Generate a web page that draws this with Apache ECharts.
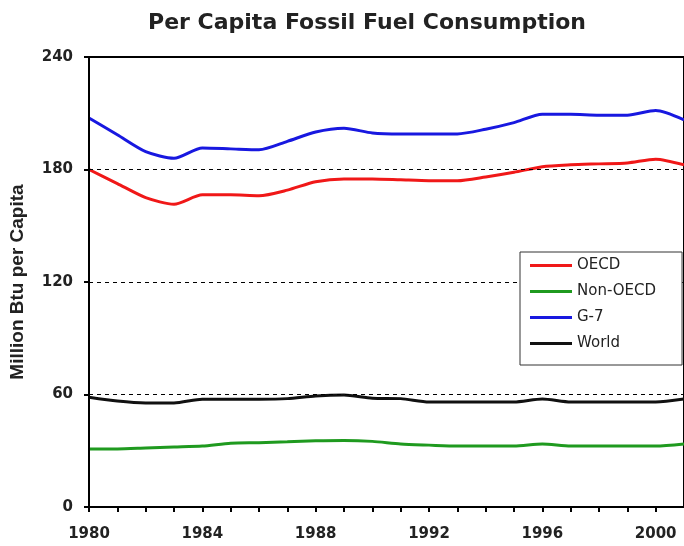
<!DOCTYPE html>
<html>
<head>
<meta charset="utf-8">
<script src="https://cdn.jsdelivr.net/npm/echarts@6/dist/echarts.min.js"></script>
<style>
  html, body { margin: 0; padding: 0; background: #fff; }
  #main { width: 684px; height: 546px; }
</style>
</head>
<body>
<div id="main"></div>
<script>
// data, one value per year
var years = [1980, 1981, 1982, 1983, 1984, 1985, 1986, 1987, 1988, 1989, 1990,
  1991, 1992, 1993, 1994, 1995, 1996, 1997, 1998, 1999, 2000, 2001];
var oecd = [180, 172.5, 165, 161.5, 166.5, 166.5, 166, 169, 173.5, 175, 175,
  174.5, 174, 174, 176, 178.5, 181.5, 182.5, 183, 183.5, 185.5, 182.5];
var nonOecd = [31, 31, 31.5, 32, 32.5, 34, 34.3, 34.8, 35.3, 35.5, 35,
  33.6, 33, 32.5, 32.5, 32.5, 33.6, 32.5, 32.5, 32.5, 32.5, 33.6];
var g7 = [207.5, 198.5, 189.5, 186, 191.5, 191, 190.5, 195, 200, 202, 199.5,
  199, 199, 199, 201.5, 205, 209.5, 209.5, 209, 209, 211.5, 206.5];
var world = [58.5, 56.5, 55.5, 55.5, 57.5, 57.5, 57.5, 57.8, 59.2, 59.7, 58,
  57.8, 56, 56, 56, 56, 57.6, 56, 56, 56, 56, 57.6];
var seriesNames = ['OECD', 'Non-OECD', 'G-7', 'World'];
var yTicks = [0, 60, 120, 180, 240];

function pairs(vals) {
  var out = [];
  for (let i = 0; i < years.length; i++) {
    out.push([years[i], vals[i]]);
  }
  return out;
}

var chart = echarts.init(document.getElementById('main'), null, {
  width: 684,
  height: 546
});

function lineSeries(name, vals, color) {
  return {
    name: name,
    type: 'line',
    data: pairs(vals),
    showSymbol: false,
    smooth: 0.25,
    color: color,
    lineStyle: { color: color, width: 3 },
    z: 2
  };
}

var option = {
  animation: false,
  backgroundColor: '#fff',
  title: {
    text: 'Per Capita Fossil Fuel Consumption',
    left: 362,
    textAlign: 'center',
    top: 7,
    textStyle: {
      fontFamily: 'DejaVu Sans',
      fontWeight: 'bold',
      fontSize: 22,
      color: '#222'
    }
  },
  legend: {
    data: seriesNames,
    orient: 'vertical',
    left: 520,
    top: 252,
    padding: [6, 26, 14, 10],
    itemGap: 11,
    itemWidth: 42,
    itemHeight: 3,
    icon: 'rect',
    borderColor: '#333',
    borderWidth: 1,
    backgroundColor: '#fff',
    textStyle: {
      fontFamily: 'DejaVu Sans',
      fontSize: 15,
      color: '#222'
    }
  },
  grid: {
    left: 88,
    right: -3,
    top: 57,
    bottom: 39,
    show: true,
    borderColor: '#000',
    borderWidth: 2
  },
  xAxis: {
    type: 'value',
    min: 1980,
    max: 2001,
    interval: 1,
    axisLine: { lineStyle: { color: '#000', width: 2 } },
    axisTick: { inside: false, length: 5, lineStyle: { color: '#000', width: 2 } },
    axisLabel: {
      margin: 20,
      fontFamily: 'DejaVu Sans',
      fontWeight: 'bold',
      fontSize: 15,
      color: '#222',
      showMaxLabel: false,
      formatter: function(v) {
        return (v - 1980) % 4 === 0 ? String(v) : '';
      }
    },
    splitLine: { show: false }
  },
  yAxis: {
    type: 'value',
    min: yTicks[0],
    max: yTicks[yTicks.length - 1],
    interval: 60,
    name: 'Million Btu per Capita',
    nameLocation: 'middle',
    nameGap: 62,
    nameTextStyle: {
      fontFamily: 'Liberation Sans',
      fontWeight: 'bold',
      fontSize: 19,
      color: '#222'
    },
    axisLine: { show: true, lineStyle: { color: '#000', width: 2 } },
    axisTick: { show: true, inside: false, length: 5, lineStyle: { color: '#000', width: 2 } },
    axisLabel: {
      margin: 16,
      fontFamily: 'DejaVu Sans',
      fontWeight: 'bold',
      fontSize: 15,
      color: '#222'
    },
    splitLine: {
      show: true,
      lineStyle: { color: '#000', width: 1, type: [4, 4] }
    },
    z: 3
  },
  series: [
    lineSeries('OECD', oecd, '#f01818'),
    lineSeries('Non-OECD', nonOecd, '#1f9a1f'),
    lineSeries('G-7', g7, '#1818e0'),
    lineSeries('World', world, '#111')
  ]
};

chart.setOption(option);
</script>
</body>
</html>
